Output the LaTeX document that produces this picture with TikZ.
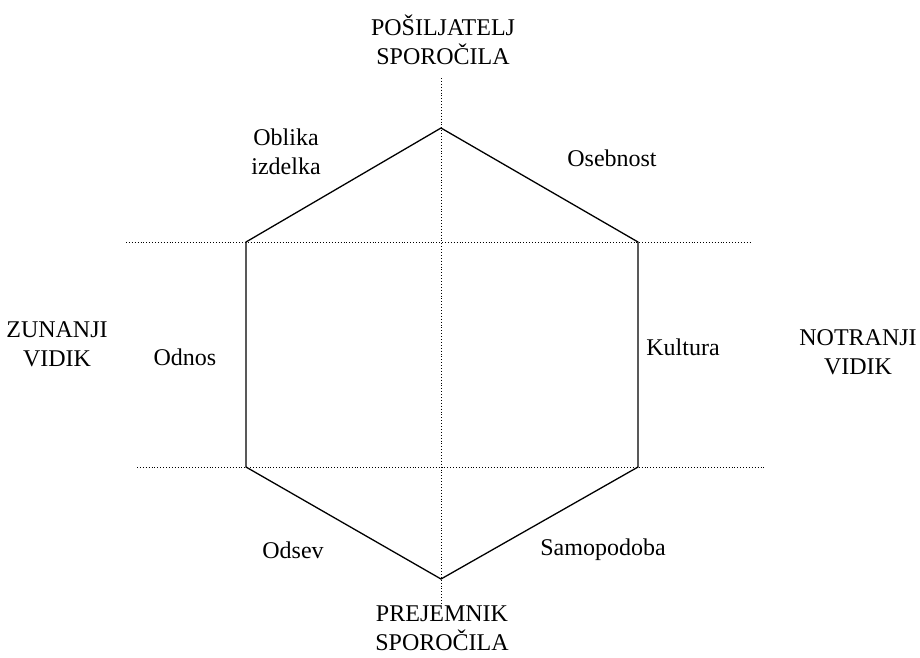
\documentclass[tikz,border=0pt]{standalone}
\usepackage{fontspec}
\setmainfont{Liberation Serif}
\begin{document}
\begin{tikzpicture}[x=1pt,y=-1pt,
  lbl/.style={font=\fontsize{24}{29}\selectfont, align=center, inner sep=0pt},
  hexline/.style={line width=1.3pt, line join=miter},
  axis/.style={line width=0.9pt, dotted}]
\useasboundingbox (0,0) rectangle (920,657);
% hexagon vertices
\coordinate (T) at (441,128);
\coordinate (UL) at (246,242);
\coordinate (UR) at (638,242);
\coordinate (LL) at (246,467);
\coordinate (LR) at (638,467);
\coordinate (B) at (441,579);
% axis ends
\coordinate (vt) at (441,78);
\coordinate (vb) at (441,603);
\coordinate (h1l) at (126,242);
\coordinate (h1r) at (752,242);
\coordinate (h2l) at (137,467);
\coordinate (h2r) at (764,467);
\draw[axis] (vt) -- (vb);
\draw[axis] (h1l) -- (h1r);
\draw[axis] (h2l) -- (h2r);
\draw[hexline] (T) -- (UR) -- (LR) -- (B) -- (LL) -- (UL) -- cycle;
% labels
\node[lbl] (pos) at (443,40) {POŠILJATELJ\\SPOROČILA};
\node[lbl] (obl) at (286,152) {Oblika\\izdelka};
\node[lbl] (ose) at (612,158) {Osebnost};
\node[lbl] (zun) at (57,344) {ZUNANJI\\VIDIK};
\node[lbl] (odn) at (185,357) {Odnos};
\node[lbl] (kul) at (683,347) {Kultura};
\node[lbl] (not) at (858,352) {NOTRANJI\\VIDIK};
\node[lbl] (ods) at (293,550) {Odsev};
\node[lbl] (sam) at (603,550) {Samopodoba};
\node[lbl] (pre) at (442,628) {PREJEMNIK\\SPOROČILA};
\end{tikzpicture}
\end{document}
